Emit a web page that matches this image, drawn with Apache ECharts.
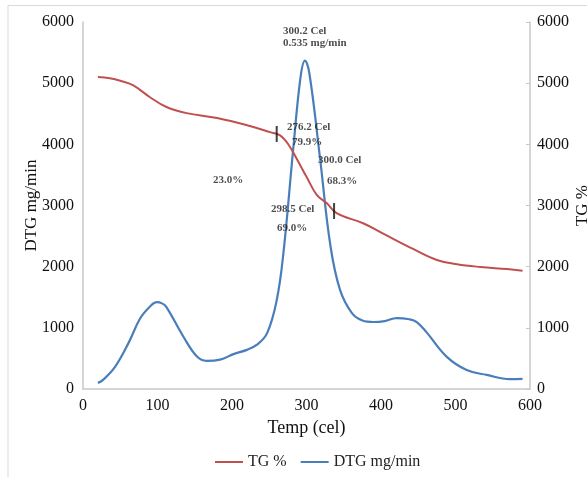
<!DOCTYPE html>
<html><head><meta charset="utf-8">
<script src="https://cdn.jsdelivr.net/npm/echarts@6/dist/echarts.min.js"></script>
<style>html,body{margin:0;padding:0;background:#fff}#c{width:587px;height:477px}</style>
</head><body><div id="c"></div>
<script>
// DTG (left axis) [temp, value]
const dtgData = [[20,100],[27,150],[43,360],[61,750],[77,1160],[90,1350],[99,1420],[106,1400],[112,1340],[135,850],[153,530],[166,460],[184,480],[202,570],[220,640],[233,720],[247,910],[260,1450],[269,2220],[282,3900],[292,5100],[298,5370],[304,5150],[318,3790],[332,2350],[345,1620],[361,1240],[375,1120],[390,1095],[405,1110],[421,1160],[438,1140],[448,1095],[461,930],[488,530],[515,310],[542,230],[573,160],[590,165]];
// TG (right axis) [temp, value]
const tgData = [[20,5100],[36,5080],[50,5040],[67,4967],[90,4770],[112,4610],[139,4510],[180,4430],[224,4300],[251,4200],[264,4150],[275,4010],[287,3760],[300,3470],[314,3170],[327,3040],[341,2870],[376,2710],[403,2540],[443,2290],[475,2110],[502,2040],[533,1995],[569,1960],[590,1935]];
// Marker ticks on TG curve [temp, value]
const markers = [[260,4170],[337,2910]];
// Annotation labels [temp, value, text]
const annotations = [[268.5,5855,'300.2 Cel'],[268.5,5659,'0.535 mg/min'],[273.8,4283,'276.2 Cel'],[280.5,4038,'79.9%'],[315.4,3743,'300.0 Cel'],[327.5,3400,'68.3%'],[174.5,3417,'23.0%'],[252.3,2943,'298.5 Cel'],[260.4,2632,'69.0%']];
const xTicks = [0,100,200,300,400,500,600];
const yTicks = [0,1000,2000,3000,4000,5000,6000];

const serif = '"Liberation Serif","Times New Roman",serif';
const chart = echarts.init(document.getElementById('c'), null, {renderer:'canvas'});
const axisCol = '#c8c8c8';
const plain = v => String(v);
chart.setOption({
  animation:false,
  textStyle:{fontFamily:serif},
  graphic:[{type:'polyline',shape:{points:[[8,480],[8,5.5],[590,5.5]]},style:{stroke:'#d9d9d9',lineWidth:1,fill:null},silent:true}],
  grid:{left:83,right:57,top:22,bottom:88,containLabel:false,outerBoundsMode:'none'},
  legend:{bottom:2,left:210,itemWidth:28,itemHeight:2,itemGap:14,icon:'rect',
    textStyle:{fontFamily:serif,fontSize:16,color:'#222'},
    data:['TG %','DTG mg/min']},
  xAxis:{type:'value',min:0,max:600,interval:100,
    name:'Temp (cel)',nameLocation:'middle',nameGap:30,nameMoveOverlap:false,
    nameTextStyle:{fontFamily:serif,fontSize:18,color:'#111'},
    axisLine:{show:true,lineStyle:{color:axisCol,width:1.5}},axisTick:{show:false},splitLine:{show:false},
    axisLabel:{fontFamily:serif,fontSize:16,color:'#111',margin:9,formatter:plain}},
  yAxis:[{type:'value',min:0,max:6000,interval:1000,position:'left',
    name:'DTG mg/min',nameLocation:'middle',nameGap:43,nameRotate:90,nameMoveOverlap:false,
    nameTextStyle:{fontFamily:serif,fontSize:17,color:'#111'},
    axisLine:{show:true,lineStyle:{color:axisCol,width:1.5}},axisTick:{show:false},splitLine:{show:false},
    axisLabel:{fontFamily:serif,fontSize:16,color:'#111',margin:9,formatter:plain}},
   {type:'value',min:0,max:6000,interval:1000,position:'right',
    name:'TG %',nameLocation:'middle',nameGap:44,nameRotate:90,nameMoveOverlap:false,
    nameTextStyle:{fontFamily:serif,fontSize:17,color:'#111'},
    axisLine:{show:true,lineStyle:{color:axisCol,width:1.5}},
    axisTick:{show:true,inside:true,length:4,lineStyle:{color:axisCol}},splitLine:{show:false},
    axisLabel:{fontFamily:serif,fontSize:16,color:'#111',margin:7,formatter:plain}}],
  series:[
    {name:'TG %',type:'line',yAxisIndex:1,data:tgData,smooth:0.4,showSymbol:false,
     lineStyle:{color:'#C0504D',width:2},itemStyle:{color:'#C0504D'},z:3},
    {name:'DTG mg/min',type:'line',yAxisIndex:0,data:dtgData,smooth:0.4,showSymbol:false,
     lineStyle:{color:'#4A7EBB',width:2.2},itemStyle:{color:'#4A7EBB'},z:2},
    {type:'scatter',yAxisIndex:1,data:markers,symbol:'rect',symbolSize:[2,16],
     itemStyle:{color:'#111'},z:5,silent:true},
    {type:'scatter',yAxisIndex:0,data:annotations.map(a=>({value:[a[0],a[1]],label:{formatter:a[2]}})),
     symbolSize:0,silent:true,z:6,
     label:{show:true,position:'right',distance:0,fontFamily:serif,fontSize:11,fontWeight:'bold',color:'#222'}}
  ]
});
</script></body></html>
